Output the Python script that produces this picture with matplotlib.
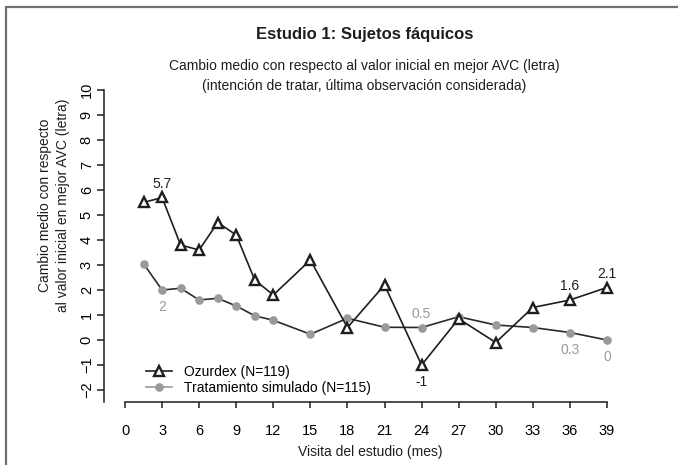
import matplotlib
matplotlib.use("Agg")
import matplotlib.pyplot as plt
from matplotlib.lines import Line2D
from matplotlib.patches import Rectangle

plt.rcParams['font.family'] = ['Liberation Sans', 'DejaVu Sans']

# datos
visits = [1.5, 3, 4.5, 6, 7.5, 9, 10.5, 12, 15, 18, 21, 24, 27, 30, 33, 36, 39]
ozurdex = [5.5, 5.7, 3.8, 3.6, 4.7, 4.2, 2.4, 1.8, 3.2, 0.5, 2.2, -1.0, 0.85, -0.1, 1.3, 1.6, 2.1]
sham = [3.05, 2.0, 2.07, 1.6, 1.67, 1.36, 0.97, 0.79, 0.23, 0.87, 0.51, 0.5, 0.93, 0.6, 0.5, 0.3, 0.0]

xticks = list(range(0, 40, 3))
yticks = list(range(-2, 11))

# visitas con etiqueta (visita, posicion)
labels_oz = [(3, 'above'), (24, 'below'), (36, 'above'), (39, 'above')]
labels_sh = [(3, 'below'), (24, 'above'), (36, 'below'), (39, 'below')]

W, H = 678, 465
fig = plt.figure(figsize=(W / 100, H / 100), dpi=100)

# marco gris
fig.add_artist(Rectangle((6 / W, -0.2), 1.2, 1.2 - 7 / H,
                         transform=fig.transFigure, fill=False,
                         edgecolor='#707070', lw=1.6))

ax = fig.add_axes([104 / W, (H - 402) / H, (625 - 104) / W, (402 - 82) / H])
ax.set_xlim(-1.70, 40.46)
ax.set_ylim(-2.48, 10.32)

dark = '#1e1e1e'
grey = '#9a9a9a'
fs = 10

ax.plot(visits, sham, color='#2a2a2a', lw=1.2, marker='o', ms=5.2,
        mfc=grey, mec=grey, zorder=2)
ax.plot(visits, ozurdex, color=dark, lw=1.2, marker='^', ms=7.3,
        mfc='white', mec=dark, mew=1.7, zorder=3)

for v, pos in labels_oz:
    val = ozurdex[visits.index(v)]
    off = 10 if pos == 'above' else -12
    ax.annotate(f'{val:g}', (v, val), xytext=(0, off), textcoords='offset points',
                ha='center', va='center', fontsize=fs, color=dark)
for v, pos in labels_sh:
    val = sham[visits.index(v)]
    off = 9.5 if pos == 'above' else -12.5
    ax.annotate(f'{val:g}', (v, val), xytext=(0, off), textcoords='offset points',
                ha='center', va='center', fontsize=fs, color=grey)

for s in ['top', 'right']:
    ax.spines[s].set_visible(False)
ax.spines['left'].set_bounds(-2.48, 10)
ax.spines['bottom'].set_bounds(0, 39)
for s in ['left', 'bottom']:
    ax.spines[s].set_linewidth(1.1)
    ax.spines[s].set_color(dark)

ax.set_xticks(xticks)
ax.set_yticks(yticks)
ax.tick_params(axis='x', length=4.5, width=1.1, color=dark, pad=11.5, labelsize=10.5)
ax.tick_params(axis='y', length=4.8, width=1.1, color=dark, pad=2.5, labelsize=10.5)
for t in ax.get_yticklabels():
    t.set_rotation(90)
    t.set_va('center')

# textos
fig.text(364.5 / W, 1 - 39.5 / H, 'Estudio 1: Sujetos fáquicos', ha='center',
         va='baseline', fontsize=12, fontweight='bold', color=dark)
fig.text(364.5 / W, 1 - 70 / H,
         'Cambio medio con respecto al valor inicial en mejor AVC (letra)',
         ha='center', va='baseline', fontsize=fs, color=dark)
fig.text(364.5 / W, 1 - 90 / H,
         '(intención de tratar, última observación considerada)',
         ha='center', va='baseline', fontsize=fs, color=dark)
fig.text(54 / W, 1 - 205 / H,
         'Cambio medio con respecto\nal valor inicial en mejor AVC (letra)',
         rotation=90, ha='center', va='center', fontsize=fs, color=dark,
         linespacing=1.35)
fig.text(370 / W, 1 - 452 / H, 'Visita del estudio (mes)', ha='center',
         va='center', fontsize=fs, color=dark)

handles = [Line2D([], [], color=dark, lw=1.2, marker='^', ms=7.3, mfc='white',
                  mec=dark, mew=1.7),
           Line2D([], [], color=grey, lw=1.2, marker='o', ms=5.2, mfc=grey, mec=grey)]
ax.legend(handles, ['Ozurdex (N=119)', 'Tratamiento simulado (N=115)'],
          loc='upper left', bbox_to_anchor=(146 / W, 1 - 365 / H),
          bbox_transform=fig.transFigure, frameon=False, fontsize=fs,
          borderpad=0, borderaxespad=0, handlelength=1.9,
          handletextpad=0.8, labelspacing=0.15)

fig.savefig('out.png', dpi=100)
